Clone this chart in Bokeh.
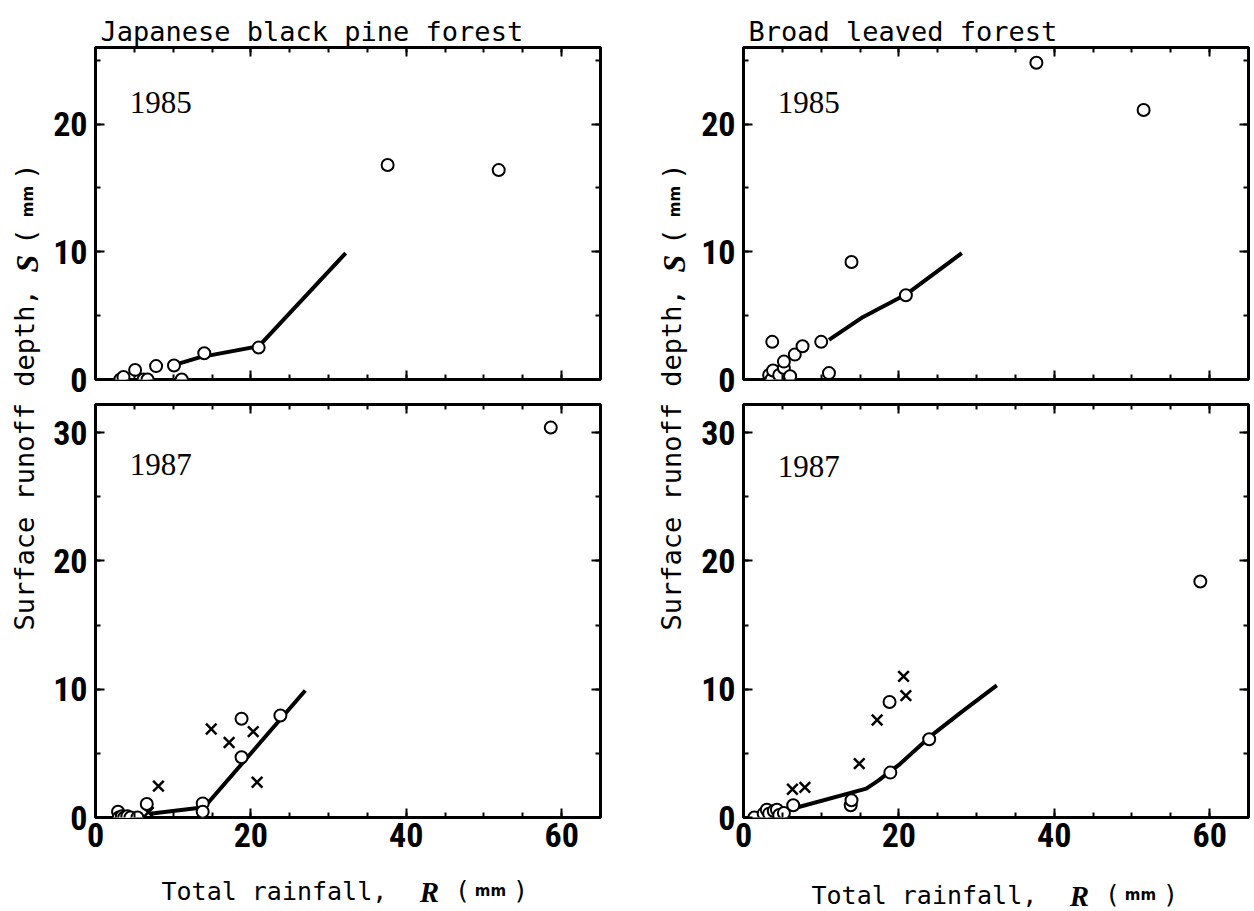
import math
from bokeh.plotting import figure
from bokeh.layouts import row, column
from bokeh.models import Range1d, LinearAxis, SingleIntervalTicker, CustomJSTickFormatter, Title
from bokeh.core.properties import value
from bokeh.embed import file_html
from bokeh.resources import INLINE

# ---------------- data ----------------
# Japanese black pine forest, 1985
pine85_x = [3.2, 3.6, 5.1, 6.2, 6.7, 7.8, 10.1, 11.1, 14.0, 21.0, 37.6, 51.9]
pine85_y = [0.0, 0.2, 0.75, 0.0, 0.0, 1.05, 1.1, 0.0, 2.05, 2.5, 16.8, 16.4]
pine85_fit_x = [10.5, 13.5, 21.0, 32.2]
pine85_fit_y = [1.2, 1.75, 2.6, 9.9]

# Broad leaved forest, 1985
broad85_x = [3.3, 3.6, 3.8, 3.7, 4.6, 5.2, 5.2, 6.0, 6.6, 7.6, 10.0, 11.0, 13.9, 20.9, 37.7, 51.5]
broad85_y = [0.35, 0.0, 0.7, 2.95, 0.35, 0.9, 1.4, 0.25, 1.95, 2.6, 2.95, 0.5, 9.2, 6.6, 24.8, 21.1]
broad85_fit_x = [11.0, 15.4, 20.9, 28.1]
broad85_fit_y = [3.1, 4.9, 6.65, 9.9]

# Japanese black pine forest, 1987
pine87_x = [2.9, 3.0, 3.4, 3.7, 4.1, 4.5, 5.4, 6.6, 13.8, 13.8, 18.8, 18.8, 23.8, 58.6]
pine87_y = [0.45, 0.0, 0.1, 0.0, 0.1, 0.0, 0.0, 1.05, 1.1, 0.45, 4.7, 7.7, 7.95, 30.4]
pine87_cross_x = [6.8, 8.1, 14.9, 17.2, 20.3, 20.8]
pine87_cross_y = [0.4, 2.45, 6.9, 5.85, 6.7, 2.75]
pine87_fit_x = [7.0, 14.0, 27.0]
pine87_fit_y = [0.3, 0.8, 9.9]

# Broad leaved forest, 1987
broad87_x = [1.4, 2.6, 3.0, 3.3, 3.9, 4.3, 4.6, 5.2, 6.4, 13.8, 13.9, 18.9, 18.8, 23.9, 58.8]
broad87_y = [0.0, 0.3, 0.6, 0.3, 0.5, 0.6, 0.2, 0.35, 0.95, 0.95, 1.35, 3.5, 9.0, 6.1, 18.4]
broad87_cross_x = [6.3, 7.9, 14.9, 17.2, 20.6, 20.9]
broad87_cross_y = [2.2, 2.35, 4.2, 7.6, 11.0, 9.5]
broad87_fit_x = [7.0, 15.8, 17.3, 20.0, 24.0, 28.0, 32.6]
broad87_fit_y = [0.8, 2.25, 2.85, 4.1, 6.3, 8.2, 10.3]

titles = ["Japanese black pine forest", "Broad leaved forest"]
years = ["1985", "1987"]
x_max = 65
y_max_top = 26
y_max_bottom = 32.2

# ---------------- styles ----------------
TICK_FONT = "'Roboto Condensed', Roboto, sans-serif"
MONO = "DejaVu Sans Mono"
SERIF = "Liberation Serif"


def style_axis(ax, ticker, show_labels, standoff=8):
    ax.ticker = ticker
    ax.axis_line_color = None
    ax.major_tick_in = 9
    ax.major_tick_out = 0
    ax.minor_tick_in = 5
    ax.minor_tick_out = 0
    ax.major_tick_line_width = 2
    ax.minor_tick_line_width = 2
    ax.major_tick_line_color = "black"
    ax.minor_tick_line_color = "black"
    if show_labels:
        ax.major_label_text_font = TICK_FONT
        ax.major_label_text_font_size = "34px"
        ax.major_label_text_font_style = "bold"
        ax.major_label_text_color = "black"
        ax.major_label_standoff = standoff
    else:
        ax.formatter = CustomJSTickFormatter(code="return ''")
        ax.major_label_standoff = 0
        ax.major_label_text_font_size = "1px"


def panel(width, height, ymax, mbl, mbr, mbt, mbb, show_x_labels, title=None):
    p = figure(width=width, height=height, x_range=Range1d(0, x_max),
               y_range=Range1d(0, ymax), output_backend="svg",
               toolbar_location=None, title=None)
    p.min_border_left = mbl
    p.min_border_right = mbr
    p.min_border_top = mbt
    p.min_border_bottom = mbb
    p.grid.visible = False
    p.outline_line_color = "black"
    p.outline_line_width = 3
    p.background_fill_color = "white"
    p.border_fill_color = "white"
    style_axis(p.xaxis[0], SingleIntervalTicker(interval=20, num_minor_ticks=4), show_x_labels, standoff=5)
    style_axis(p.yaxis[0], SingleIntervalTicker(interval=10, num_minor_ticks=2), True, standoff=8)
    top_ax = LinearAxis()
    style_axis(top_ax, SingleIntervalTicker(interval=20, num_minor_ticks=4), False)
    p.add_layout(top_ax, "above")
    right_ax = LinearAxis()
    style_axis(right_ax, SingleIntervalTicker(interval=10, num_minor_ticks=2), False)
    p.add_layout(right_ax, "right")
    if title is not None:
        t = Title(text=title, align="left", offset=5, standoff=2,
                  text_font=MONO, text_font_size="27px", text_font_style="normal",
                  text_color="black")
        p.add_layout(t, "above")
    return p


def add_data(p, cx, cy, fx, fy, xx=None, xy=None):
    p.line(fx, fy, line_width=4, line_color="black")
    if xx is not None:
        p.scatter(xx, xy, marker="x", size=15, line_color="black", line_width=2.5)
    p.scatter(cx, cy, marker="circle", size=12, fill_color="white",
              line_color="black", line_width=2)


def add_year(p, txt, y):
    p.text(x=[4.4], y=[y], text=[txt], text_font=value(SERIF), text_font_size="31px",
           text_color="black", text_align="left", text_baseline="alphabetic")


def strip(width, height, x0):
    s = figure(width=width, height=height, x_range=Range1d(x0, x0 + width),
               y_range=Range1d(0, height), output_backend="svg", toolbar_location=None,
               x_axis_location=None, y_axis_location=None, title=None)
    s.min_border_left = 0
    s.min_border_right = 0
    s.min_border_top = 0
    s.min_border_bottom = 0
    s.grid.visible = False
    s.outline_line_color = None
    s.background_fill_color = "white"
    s.border_fill_color = "white"
    return s


# ---------------- panels ----------------
tl = panel(590, 401, y_max_top, 43, 40, 47, 22, False, titles[0])
bl = panel(590, 467, y_max_bottom, 43, 40, 3, 51, True)
tr = panel(562, 401, y_max_top, 51, 6, 47, 22, False, titles[1])
br = panel(562, 467, y_max_bottom, 51, 6, 3, 51, True)

add_data(tl, pine85_x, pine85_y, pine85_fit_x, pine85_fit_y)
add_data(tr, broad85_x, broad85_y, broad85_fit_x, broad85_fit_y)
add_data(bl, pine87_x, pine87_y, pine87_fit_x, pine87_fit_y, pine87_cross_x, pine87_cross_y)
add_data(br, broad87_x, broad87_y, broad87_fit_x, broad87_fit_y, broad87_cross_x, broad87_cross_y)

add_year(tl, years[0], 21.7)
add_year(tr, years[0], 21.7)
add_year(bl, years[1], 27.5)
add_year(br, years[1], 27.4)

# ---------------- text strips ----------------
# bottom strip: page y 868..911
bot_s = strip(1254, 43, 0)


def x_title(s, x0, base):
    yb = 911 - base
    s.text(x=[x0], y=[yb], text=["Total rainfall,"], text_font=value(MONO), text_font_size="25px",
           text_color="black", text_align="left", text_baseline="alphabetic")
    s.text(x=[x0 + 268], y=[yb], text=["R"], text_font=value(SERIF), text_font_size="29px",
           text_font_style="bold italic", text_color="black", text_align="center",
           text_baseline="alphabetic")
    s.text(x=[x0 + 301], y=[yb + 1], text=["("], text_font=value(MONO), text_font_size="25px",
           text_color="black", text_align="center", text_baseline="alphabetic")
    s.text(x=[x0 + 329], y=[yb + 1], text=["mm"], text_font=value("DejaVu Sans"), text_font_size="15px",
           text_font_style="bold", text_color="black", text_align="center", text_baseline="alphabetic")
    s.text(x=[x0 + 359], y=[yb + 1], text=[")"], text_font=value(MONO), text_font_size="25px",
           text_color="black", text_align="center", text_baseline="alphabetic")


x_title(bot_s, 161, 891)
x_title(bot_s, 811, 895)


# side strips: page y 0..868
def y_title(s, xc):
    def py(y):
        return 868 - y
    s.text(x=[xc], y=[py(630)], text=["Surface runoff depth,"], angle=math.pi / 2,
           text_font=value(MONO), text_font_size="27px", text_color="black",
           text_align="left", text_baseline="middle")
    s.text(x=[xc + 2], y=[py(263)], text=["S"], angle=math.pi / 2,
           text_font=value(SERIF), text_font_size="32px", text_font_style="bold italic",
           text_color="black", text_align="center", text_baseline="middle")
    s.text(x=[xc + 1], y=[py(236)], text=["("], angle=math.pi / 2,
           text_font=value(MONO), text_font_size="27px", text_color="black",
           text_align="center", text_baseline="middle")
    s.text(x=[xc + 3], y=[py(201)], text=["mm"], angle=math.pi / 2,
           text_font=value("DejaVu Sans"), text_font_size="15px", text_font_style="bold",
           text_color="black", text_align="center", text_baseline="middle")
    s.text(x=[xc + 1], y=[py(171)], text=[")"], angle=math.pi / 2,
           text_font=value(MONO), text_font_size="27px", text_color="black",
           text_align="center", text_baseline="middle")


left_s = strip(50, 868, 0)
y_title(left_s, 24)
right_s = strip(52, 868, 640)
y_title(right_s, 671)

layout = column(
    row(left_s, column(tl, bl), right_s, column(tr, br)),
    bot_s,
)

open("out.html", "w").write(file_html(layout, INLINE))
